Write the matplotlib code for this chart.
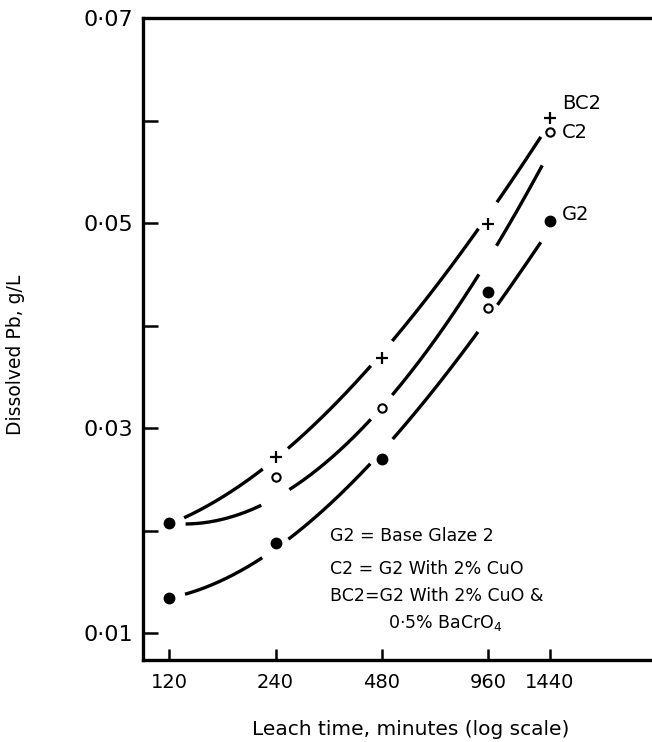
import numpy as np
import matplotlib
matplotlib.use("Agg")
import matplotlib.pyplot as plt

# leach time (minutes) and dissolved Pb (g/L)
leach_time = [120, 240, 480, 960, 1440]
time_labels = ["120", "240", "480", "960", "1440"]

# measured points
start_pb = 0.0207                       # common first point of BC2 and C2
bc2_pb = [0.0272, 0.0368, 0.0499, 0.0602]   # at 240..1440
c2_pb = [0.0252, 0.0320, 0.0417, 0.0589]    # at 240..1440
g2_pb = [0.0134, 0.0188, 0.0270, 0.0433, 0.0502]

# hand-drawn curves, read at the same leach times
bc2_curve = [0.0206, 0.0271, 0.0371, 0.0509, 0.0597]
c2_curve = [0.0207, 0.0232, 0.0320, 0.0464, 0.0570]
g2_curve = [0.0134, 0.0183, 0.0276, 0.0408, 0.0494]

y_ticks = [0.01, 0.02, 0.03, 0.04, 0.05, 0.06, 0.07]
y_labels = ["0·01", "", "0·03", "", "0·05", "", "0·07"]

plt.rcParams["font.family"] = ["DejaVu Sans"]

fig = plt.figure(figsize=(6.52, 7.42), dpi=100)
ax = fig.add_axes([0.2193, 0.1105, 0.7807, 0.8652])
ax.set_xscale("log")
ax.set_xlim(101, 2806)
ax.set_ylim(0.00737, 0.07)


def broken_curve(vals, gap=16.0):
    # smooth curve in log2 time, with gaps cut around every measured time
    t = np.log2(np.array(leach_time) / 120.0)
    coef = np.polyfit(t, vals, 3)
    tt = np.linspace(0, t[-1], 800)
    yy = np.polyval(coef, tt)
    px = 106 * tt
    py = 10250 * yy
    mask = np.zeros_like(tt, dtype=bool)
    for tk in t:
        cx = 106 * tk
        cy = 10250 * np.polyval(coef, tk)
        mask |= np.hypot(px - cx, py - cy) < gap
    yy = yy.copy()
    yy[mask] = np.nan
    return 120 * 2 ** tt, yy


for curve in [bc2_curve, c2_curve, g2_curve]:
    xx, yy = broken_curve(curve)
    ax.plot(xx, yy, color="black", lw=2.4, solid_capstyle="butt")

ax.plot(leach_time[1:], bc2_pb, ls="none", marker="+", ms=8, mew=1.6, color="black")
ax.plot(leach_time[1:], c2_pb, ls="none", marker="o", ms=6, mew=1.5,
        mfc="white", mec="black")
ax.plot(leach_time, g2_pb, ls="none", marker="o", ms=7.5, color="black")
ax.plot([leach_time[0]], [start_pb], ls="none", marker="o", ms=7.5, color="black")

# series names
ax.text(1560, 0.0617, "BC2", fontsize=14, va="center", ha="left")
ax.text(1560, 0.0588, "C2", fontsize=14, va="center", ha="left")
ax.text(1560, 0.0508, "G2", fontsize=14, va="center", ha="left")

# key
ax.text(0.367, 0.193, "G2 = Base Glaze 2", transform=ax.transAxes, fontsize=12.5, va="center")
ax.text(0.367, 0.142, "C2 = G2 With 2% CuO", transform=ax.transAxes, fontsize=12.5, va="center")
ax.text(0.367, 0.100, "BC2=G2 With 2% CuO &", transform=ax.transAxes, fontsize=12.5, va="center")
ax.text(0.482, 0.058, "0·5% BaCrO$_4$", transform=ax.transAxes, fontsize=12.5, va="center")

ax.set_xticks(leach_time)
ax.set_xticklabels(time_labels)
ax.xaxis.set_minor_locator(matplotlib.ticker.NullLocator())
ax.set_yticks(y_ticks)
ax.set_yticklabels(y_labels)

ax.tick_params(axis="x", direction="in", length=8, width=1.8, labelsize=14, pad=9)
ax.tick_params(axis="y", direction="in", length=11, width=1.8, labelsize=16, pad=7)

for side in ["left", "bottom", "top"]:
    ax.spines[side].set_linewidth(2.4)
ax.spines["right"].set_visible(False)

ax.set_xlabel("Leach time, minutes (log scale)", fontsize=14.5)
ax.xaxis.set_label_coords(0.526, -0.093)
ax.set_ylabel("Dissolved Pb, g/L", fontsize=13.5)
ax.yaxis.set_label_coords(-0.232, 0.475)

fig.savefig("out.png", dpi=100)
